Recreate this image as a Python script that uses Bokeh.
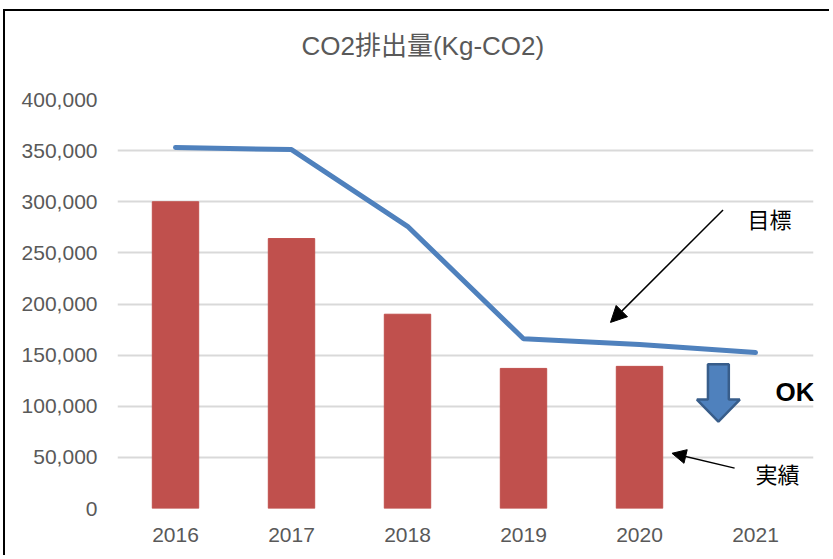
from bokeh.plotting import figure
from bokeh.models import FactorRange, Range1d, Arrow, NormalHead, Label, NumeralTickFormatter, FixedTicker, ColumnDataSource, Title
from bokeh.embed import file_html
from bokeh.resources import INLINE

# ---- data ----
years = ["2016", "2017", "2018", "2019", "2020", "2021"]
actual_years = ["2016", "2017", "2018", "2019", "2020"]
actual = [300000, 264000, 190000, 137000, 139000]        # 実績 (bars)
target = [353000, 351000, 276000, 166000, 160500, 152500]  # 目標 (line)
y_ticks = [0, 50000, 100000, 150000, 200000, 250000, 300000, 350000, 400000]
title_text = "CO2排出量(Kg-CO2)"

# annotation anchors (synthetic categorical x, data y)
target_note = dict(x=5.62, y=282000, text="目標")
target_arrow = dict(x0=5.22, y0=292000, x1=4.25, y1=182000)
actual_note = dict(x=5.69, y=32500, text="実績")
actual_arrow = dict(x0=5.32, y0=39500, x1=4.78, y1=54000)
ok_note = dict(x=5.84, y=113500, text="OK")
ok_arrow_x = [5.09, 5.27, 5.27, 5.365, 5.18, 4.995, 5.09]
ok_arrow_y = [141000, 141000, 106500, 106500, 85000, 106500, 106500]

FONT = "Liberation Sans, Noto Sans CJK JP"
GRAY = "#595959"

p = figure(
    x_range=FactorRange(*years), y_range=Range1d(0, 400000),
    width=826, height=546, output_backend="svg", toolbar_location=None,
    min_border_left=112, min_border_right=18, min_border_top=88, min_border_bottom=49,
    background_fill_color="white", border_fill_color="white",
)
p.styles = {"margin-left": "3px", "margin-top": "9px",
            "border-left": "2px solid black", "border-top": "2px solid black"}
p.outline_line_color = None
p.title.text = ""
p.title.standoff = 0

# spacer between the plot area and the title, then the title itself
p.add_layout(Title(text=" ", text_font_size="1px", standoff=36), "above")
p.add_layout(Title(text=title_text, text_font=FONT, text_font_size="26px",
                   text_font_style="normal", text_color=GRAY, align="left",
                   offset=184, standoff=0), "above")

src = ColumnDataSource(dict(x=actual_years, top=actual))
p.vbar(x="x", top="top", width=0.4, source=src, fill_color="#C0504D", line_color="#C0504D")
p.line(x=years, y=target, line_width=5, line_color="#4F81BD", line_cap="round")

p.patch(ok_arrow_x, ok_arrow_y, fill_color="#4F81BD", line_color="#385D8A", line_width=2.5)

for a, sz in ((target_arrow, 16), (actual_arrow, 14)):
    p.add_layout(Arrow(end=NormalHead(size=sz, fill_color="black", line_color="black"),
                       x_start=a["x0"], y_start=a["y0"], x_end=a["x1"], y_end=a["y1"],
                       line_width=1.5, line_color="black"))

for n, fs, st in ((target_note, "22px", "normal"), (actual_note, "22px", "normal"), (ok_note, "26px", "bold")):
    p.add_layout(Label(x=n["x"], y=n["y"], text=n["text"], text_font=FONT, text_font_size=fs,
                       text_font_style=st, text_color="black", text_align="center", text_baseline="middle"))

p.yaxis.ticker = FixedTicker(ticks=y_ticks)
p.yaxis.formatter = NumeralTickFormatter(format="0,0")
for ax in (p.xaxis, p.yaxis):
    ax.axis_line_color = None
    ax.major_tick_line_color = None
    ax.minor_tick_line_color = None
    ax.major_tick_out = 0
    ax.minor_tick_out = 0
    ax.major_label_text_font = FONT
    ax.major_label_text_font_size = "21px"
    ax.major_label_text_color = GRAY
p.yaxis.major_label_standoff = 20
p.xaxis.major_label_standoff = 19

p.xgrid.grid_line_color = None
p.ygrid.grid_line_color = "#D9D9D9"
p.ygrid.grid_line_width = 2

open("out.html", "w").write(file_html(p, INLINE))
